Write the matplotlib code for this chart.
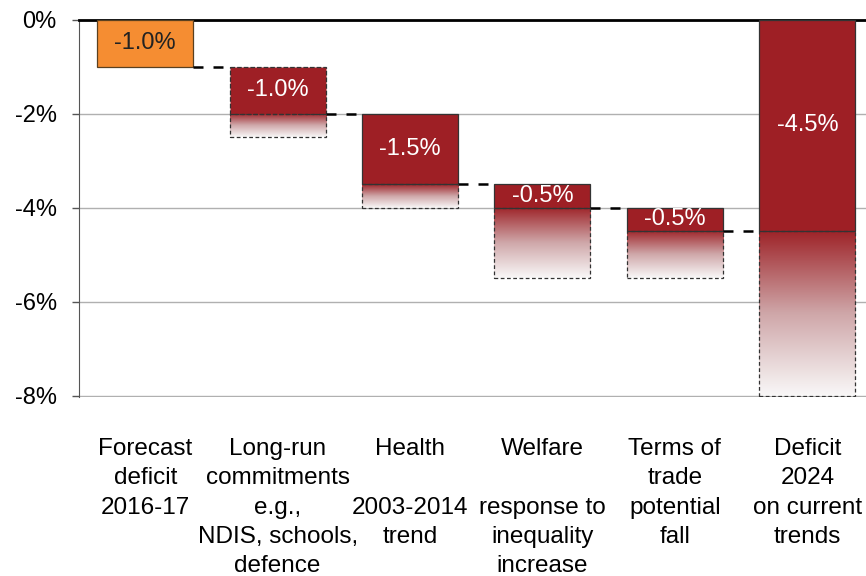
import numpy as np
import matplotlib
matplotlib.use('Agg')
import matplotlib.pyplot as plt
from matplotlib.colors import LinearSegmentedColormap
from matplotlib.patches import Rectangle

plt.rcParams['font.family'] = ['Liberation Sans', 'DejaVu Sans']

categories = ['Forecast\ndeficit\n2016-17',
              'Long-run\ncommitments\ne.g.,\nNDIS, schools,\ndefence',
              'Health\n\n2003-2014\ntrend',
              'Welfare\n\nresponse to\ninequality\nincrease',
              'Terms of\ntrade\npotential\nfall',
              'Deficit\n2024\non current\ntrends']
# change in deficit (% of GDP), last one is the total
values = [-1.0, -1.0, -1.5, -0.5, -0.5, -4.5]
# lower end of the uncertain range (none for the forecast)
range_low = [np.nan, -2.5, -4.0, -5.5, -5.5, -8.0]
value_labels = ['-1.0%', '-1.0%', '-1.5%', '-0.5%', '-0.5%', '-4.5%']

red = '#9e1f25'
orange = '#f58d32'
fade = LinearSegmentedColormap.from_list('fade', ['#9e2429', '#cfa7a9', '#f9f8f8'])

# waterfall: each step starts where the previous ended, the total starts at 0
tops = [0.0]
for v in values[:4]:
    tops.append(tops[-1] + v)
tops.append(0.0)
bottoms = [t + v for t, v in zip(tops, values)]

fig = plt.figure(figsize=(8.66, 5.76), dpi=100)
ax = fig.add_axes([0.0912, 0.3113, 0.9088, 0.6548])

w = 0.725
x = np.arange(len(categories))
grad = np.linspace(0, 1, 256).reshape(-1, 1)

for i in x:
    left = i - w / 2
    col = orange if i == 0 else red
    ls = '--' if i == 1 else '-'
    ax.bar(i, values[i], bottom=tops[i], width=w, color=col,
           edgecolor='#333333' if i else '#5a4020', linewidth=0.9, linestyle=ls, zorder=3)
    lo = range_low[i]
    if not np.isnan(lo):
        ax.imshow(grad, cmap=fade, extent=[left, left + w, lo, bottoms[i]],
                  aspect='auto', zorder=2, interpolation='bilinear')
        ax.add_patch(Rectangle((left, lo), w, bottoms[i] - lo, fill=False,
                               edgecolor='#333333', linestyle=(0, (3, 2)), linewidth=0.9, zorder=4))
    ax.text(i, tops[i] + values[i] / 2, value_labels[i], ha='center', va='center',
            fontsize=17, color='#222222' if i == 0 else 'white', zorder=5)

# dashed connectors between steps
for i in range(len(x) - 1):
    ax.plot([i + w / 2, i + 1 - w / 2], [bottoms[i], bottoms[i]], color='black',
            linestyle=(0, (4, 4)), linewidth=1.8, zorder=3)

ax.set_xlim(-0.5, 5.443)
ax.set_ylim(-8.02, 0)
ax.set_yticks([0, -2, -4, -6, -8])
ax.set_yticklabels(['0%', '-2%', '-4%', '-6%', '-8%'])
ax.yaxis.grid(True, color='#b0b0b0', linewidth=1.0, zorder=0)
ax.set_axisbelow(True)
ax.set_xticks(x)
ax.set_xticklabels(categories, fontsize=17.5, linespacing=1.42, va='top')
ax.tick_params(axis='x', length=0, pad=30)
ax.tick_params(axis='y', labelsize=17, length=5, width=1, color='#555555', pad=11)

for s in ['right', 'bottom']:
    ax.spines[s].set_visible(False)
ax.spines['left'].set_color('#555555')
ax.spines['top'].set_linewidth(2)
ax.spines['top'].set_color('black')

fig.savefig('out.png', dpi=100)
